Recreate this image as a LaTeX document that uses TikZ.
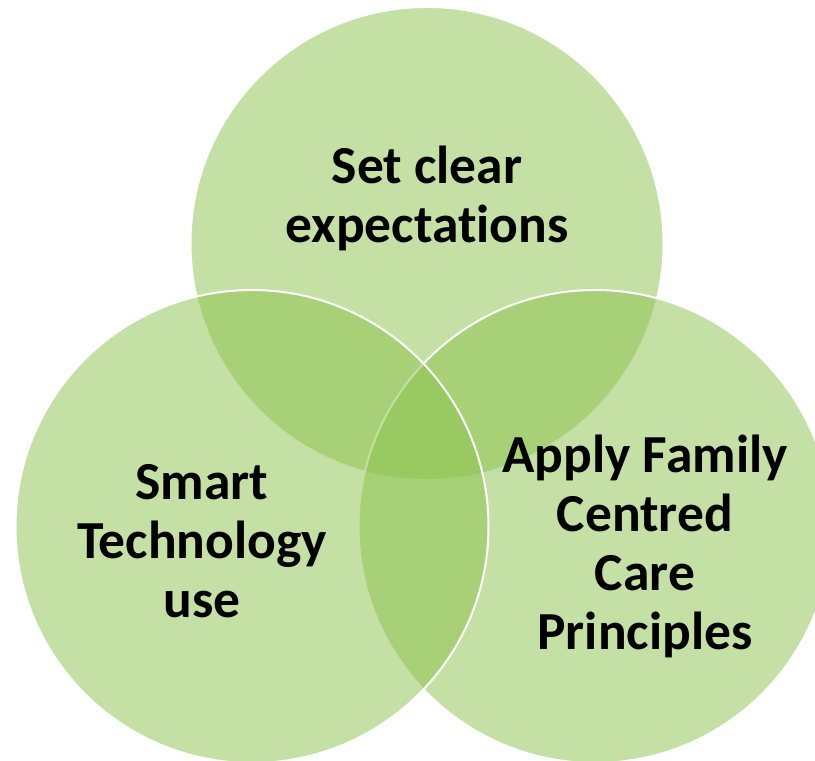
\documentclass[tikz,border=0pt]{standalone}
\usepackage{fontspec}
\setmainfont{Carlito}[Ligatures=NoCommon]
\usepackage{tikz}
\usetikzlibrary{shapes}
\definecolor{venngreen}{RGB}{139,193,75}
\tikzstyle{setcirc} = [circle, draw=white, line width=2pt, fill=venngreen,
    fill opacity=0.5, minimum size=473pt, inner sep=0pt]
\tikzstyle{txt} = [align=center, inner sep=0pt, text=black,
    font=\fontsize{53.5}{59}\selectfont\bfseries]

\begin{document}
\begin{tikzpicture}[x=1pt, y=1pt]
    \useasboundingbox (0,0) rectangle (815,761);
    \clip (0,0) rectangle (815,761);
   % Place circles
    \node [setcirc] (expect) at (427,517.5) {};
    \node [setcirc] (family) at (595,234.5) {};
    \node [setcirc] (smart) at (252,234.5) {};
   % Place texts
    \node [txt] (expecttxt) at (427,563) {Set clear\\expectations};
    \node [txt] (smarttxt) at (202,220) {Smart\\Technology\\use};
    \node [txt] (familytxt) at (645,215) {Apply Family\\Centred\\Care\\Principles};
  \end{tikzpicture}
\end{document}
